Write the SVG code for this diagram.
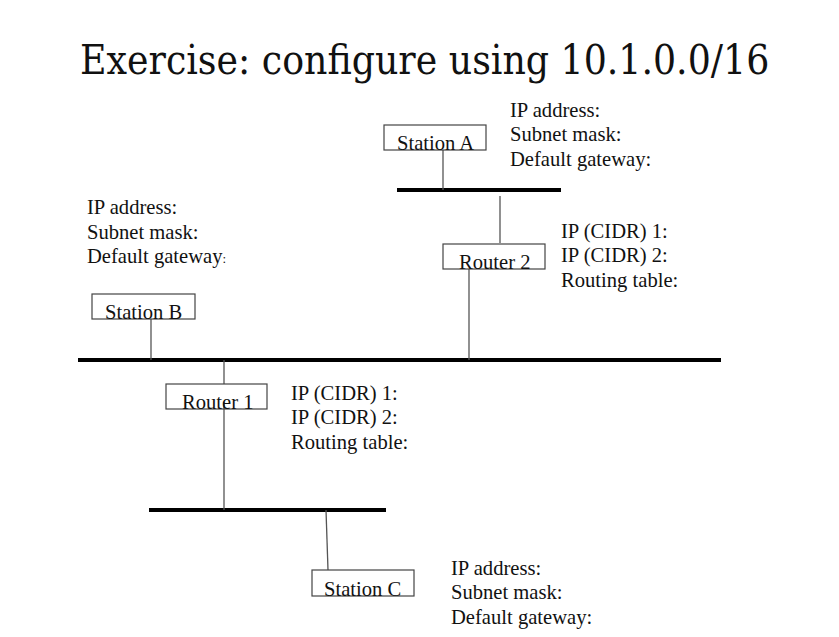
<svg xmlns="http://www.w3.org/2000/svg" width="839" height="637" viewBox="0 0 839 637">
<style>
  .t { font-family: "Liberation Serif", "Times New Roman", serif; font-size: 20.6px; fill: #111; }
  .title { font-family: "DejaVu Serif Condensed", "DejaVu Serif", serif; font-stretch: condensed; font-size: 40.4px; fill: #111; }
  .box { fill: none; stroke: #444; stroke-width: 1.2; }
  .bus { stroke: #000; stroke-width: 4; }
  .link { stroke: #555; stroke-width: 1.3; fill: none; }
</style>
<rect width="839" height="637" fill="#fff"/>
<text class="title" x="80" y="74">Exercise: configure using 10.1.0.0/16</text>

<g id="connectors">
  <line class="bus" x1="397" y1="190" x2="561" y2="190"/>
  <line class="bus" x1="78" y1="360" x2="721" y2="360"/>
  <line class="bus" x1="149" y1="510" x2="386" y2="510"/>
  <line class="link" x1="443" y1="150" x2="443" y2="190"/>
  <line class="link" x1="500" y1="196" x2="500" y2="243"/>
  <line class="link" x1="469" y1="269" x2="469" y2="360"/>
  <line class="link" x1="151" y1="319" x2="151" y2="360"/>
  <line class="link" x1="224" y1="360" x2="224" y2="384"/>
  <line class="link" x1="224" y1="402" x2="224" y2="510"/>
  <line class="link" x1="326" y1="510" x2="328" y2="570"/>
</g>

<g id="station-a">
  <rect class="box" x="384" y="125" width="102" height="25"/>
  <text class="t" x="397" y="150">Station A</text>
  <text class="t" x="510" y="117">IP address:</text>
  <text class="t" x="510" y="141">Subnet mask:</text>
  <text class="t" x="510" y="166">Default gateway:</text>
</g>

<g id="router-2">
  <rect class="box" x="443" y="244" width="102" height="25"/>
  <text class="t" x="459" y="269">Router 2</text>
  <text class="t" x="561" y="238">IP (CIDR) 1:</text>
  <text class="t" x="561" y="262">IP (CIDR) 2:</text>
  <text class="t" x="561" y="287">Routing table:</text>
</g>

<g id="station-b">
  <rect class="box" x="92" y="294" width="103" height="25"/>
  <text class="t" x="105" y="319">Station B</text>
  <text class="t" x="87" y="214">IP address:</text>
  <text class="t" x="87" y="239">Subnet mask:</text>
  <text class="t" x="87" y="263">Default gateway<tspan font-size="13">:</tspan></text>
</g>

<g id="router-1">
  <rect class="box" x="166" y="384" width="101" height="25"/>
  <text class="t" x="182" y="409">Router 1</text>
  <text class="t" x="291" y="400">IP (CIDR) 1:</text>
  <text class="t" x="291" y="424">IP (CIDR) 2:</text>
  <text class="t" x="291" y="449">Routing table:</text>
</g>

<g id="station-c">
  <rect class="box" x="312" y="570" width="102" height="26"/>
  <text class="t" x="324" y="596">Station C</text>
  <text class="t" x="451" y="575">IP address:</text>
  <text class="t" x="451" y="599">Subnet mask:</text>
  <text class="t" x="451" y="624">Default gateway:</text>
</g>
</svg>
